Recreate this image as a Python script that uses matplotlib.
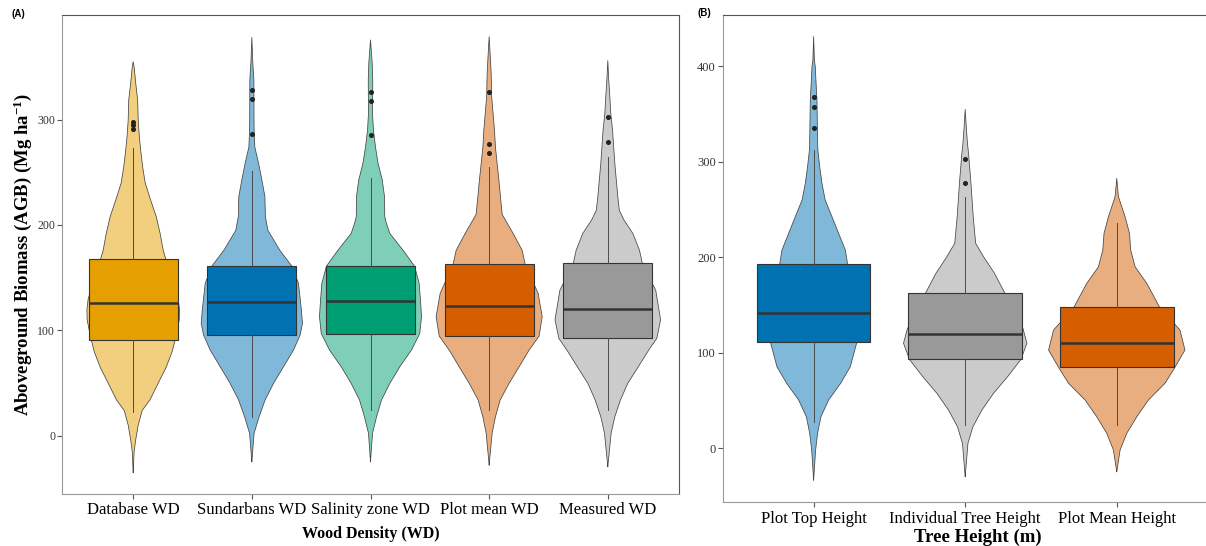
import matplotlib

matplotlib.use("Agg")
import matplotlib.pyplot as plt
import numpy as np

plt.rcParams["font.family"] = ["Liberation Serif", "DejaVu Serif"]
plt.rcParams["mathtext.fontset"] = "custom"
plt.rcParams["mathtext.rm"] = "Liberation Serif"
plt.rcParams["mathtext.default"] = "regular"

# --------------------------------------------------------------------------- #
# Panel A: AGB by wood density source                                         #
# --------------------------------------------------------------------------- #
wd_names = ["Database WD", "Sundarbans WD", "Salinity zone WD", "Plot mean WD", "Measured WD"]
wd_colors = ["#E69F00", "#0072B2", "#009E73", "#D55E00", "#999999"]
wd_q1 = [90.5, 95.6, 96.5, 94.6, 92.4]
wd_med = [125.7, 127.2, 128.2, 123.0, 120.0]
wd_q3 = [167.7, 161.0, 161.0, 163.0, 163.6]
wd_lo = [22.8, 18.0, 24.4, 24.4, 24.4]
wd_hi = [273.0, 251.0, 244.3, 255.4, 264.8]
wd_out = [[291, 295, 298], [286, 320, 328], [285, 318, 326.5], [268, 277, 326.5], [279, 302.8]]

# violin outlines: AGB level, half width (x units)
db_y = [-35, -15, -4, 10, 24, 34, 50, 65, 80, 95, 110, 120, 130, 145, 160, 168, 176, 192,
        208, 225, 240, 255, 271, 285, 300, 318, 335, 350, 355]
db_w = [0, .008, .021, .042, .076, .141, .211, .278, .329, .362, .388, .39, .379, .337, .295,
        .274, .253, .227, .194, .143, .101, .08, .063, .051, .042, .038, .021, .008, 0]
sb_y = [-24.7, 2.3, 18, 34, 49.7, 65.5, 81.3, 95.6, 106.7, 120, 144.7, 161, 176, 195, 208,
        227, 243, 259, 274, 290, 306, 338, 354, 378]
sb_w = [0, .019, .061, .112, .183, .267, .351, .407, .427, .417, .393, .337, .236, .135, .114,
        .11, .084, .056, .025, .019, .018, .017, .008, 0]
sz_y = [-24.7, 2.3, 18, 34, 49.7, 65.5, 81.3, 97, 113, 129, 144.7, 161, 176, 192, 202, 208,
        227, 242.7, 259, 274, 290, 306, 338, 354, 375.6]
sz_w = [0, .017, .051, .093, .163, .247, .345, .415, .43, .421, .41, .371, .275, .163, .133,
        .12, .118, .099, .063, .042, .025, .017, .019, .014, 0]
pm_y = [-27.8, 2.3, 18, 34, 49.7, 65.5, 81.3, 94.6, 113, 135, 163, 176, 192, 210, 227,
        242.7, 258.6, 274, 290, 322, 344, 363, 378.7]
pm_w = [0, .025, .053, .093, .168, .253, .337, .421, .447, .413, .303, .278, .202, .11, .095,
        .082, .067, .053, .045, .021, .017, .008, 0]
ms_y = [-29.4, 2.3, 18, 34, 49.7, 65.5, 81.3, 92.4, 110, 138, 163.6, 176, 192, 205, 214,
        227, 258.6, 290, 306, 322, 337.6, 356]
ms_w = [0, .028, .059, .107, .168, .257, .345, .413, .445, .404, .291, .267, .211, .135, .097,
        .084, .059, .04, .025, .017, .008, 0]

# --------------------------------------------------------------------------- #
# Panel B: AGB by tree height source                                          #
# --------------------------------------------------------------------------- #
th_names = ["Plot Top Height", "Individual Tree Height", "Plot Mean Height"]
th_colors = ["#0072B2", "#999999", "#D55E00"]
th_q1 = [111.0, 93.1, 84.8]
th_med = [141.6, 120.0, 110.5]
th_q3 = [192.9, 163.0, 148.2]
th_lo = [27.9, 24.4, 24.4]
th_hi = [312.0, 263.4, 235.5]
th_out = [[335.6, 357, 368], [278, 302.5], []]

pt_y = [-33.2, -1.8, 15.7, 33, 50.6, 68, 85.4, 111, 130, 150, 170, 192.9, 207.6, 225, 242.4,
        260, 277.4, 294.8, 312, 322.7, 364.6, 385.5, 399.5, 406.5, 431]
pt_w = [0, .013, .026, .048, .099, .178, .242, .285, .297, .283, .25, .224, .209, .165, .121,
        .076, .055, .04, .028, .026, .022, .015, .011, .005, 0]
it_y = [-29.7, 5.2, 22.6, 40, 57.6, 75, 93.1, 110, 125, 140, 163, 183, 200.6, 214.6, 242.4,
        277.4, 308.8, 319, 336.7, 354.8]
it_w = [0, .018, .051, .11, .187, .28, .368, .407, .382, .33, .26, .194, .121, .069, .053,
        .038, .022, .015, .007, 0]
mh_y = [-24.5, -1.8, 15.7, 33, 50.6, 68, 84.8, 102.9, 123.8, 148.2, 172.7, 190, 207.6, 225,
        242.4, 263.4, 282.6]
mh_w = [0, .022, .066, .132, .209, .318, .384, .45, .417, .281, .198, .121, .092, .084, .055,
        .011, 0]


def draw_panel(ax, names, colors, profiles, q1, med, q3, lo, hi, out):
    pos = np.arange(1, len(names) + 1)
    for p, (ys, ws), c in zip(pos, profiles, colors):
        ys, ws = np.asarray(ys, float), np.asarray(ws, float)
        ax.fill_betweenx(ys, p - ws, p + ws, facecolor=c, alpha=0.5, edgecolor="none", zorder=1)
        ax.plot(np.r_[p - ws, (p + ws)[::-1]], np.r_[ys, ys[::-1]],
                color="#444444", lw=0.55, zorder=1.5)
    stats = [dict(med=m, q1=a, q3=b, whislo=l, whishi=h, fliers=f)
             for m, a, b, l, h, f in zip(med, q1, q3, lo, hi, out)]
    bp = ax.bxp(stats, positions=pos, widths=0.75, patch_artist=True, showcaps=False,
                manage_ticks=False, zorder=3,
                boxprops=dict(edgecolor="#333333", lw=0.8),
                medianprops=dict(color="#333333", lw=1.8),
                whiskerprops=dict(color="#4a4a4a", lw=0.7),
                flierprops=dict(marker="o", mfc="#222222", mec="#222222", ms=2.6, ls="none"))
    for box, c in zip(bp["boxes"], colors):
        box.set_facecolor(c)
    ax.set_xticks(pos)
    ax.set_xticklabels(names, fontsize=12)
    ax.set_xlim(0.4, len(names) + 0.6)
    for side in ("left", "bottom"):
        ax.spines[side].set_color("#9a9a9a")
    for side in ("top", "right"):
        ax.spines[side].set_color("#555555")
    ax.tick_params(axis="both", colors="#555555", length=3.5, width=0.8)
    ax.tick_params(axis="x", labelcolor="black", pad=2)
    ax.tick_params(axis="y", labelcolor="#333333", pad=1.5)


W, H = 1206, 546
fig = plt.figure(figsize=(W / 100, H / 100), dpi=100)
axA = fig.add_axes([62 / W, 1 - 494 / H, 617 / W, 479 / H])
axB = fig.add_axes([722.7 / W, 1 - 502 / H, 485 / W, 487 / H])

draw_panel(axA, wd_names, wd_colors,
           [(db_y, db_w), (sb_y, sb_w), (sz_y, sz_w), (pm_y, pm_w), (ms_y, ms_w)],
           wd_q1, wd_med, wd_q3, wd_lo, wd_hi, wd_out)
axA.set_ylim(-55.3, 399.3)
axA.set_yticks([0, 100, 200, 300])
axA.tick_params(axis="y", labelsize=8.5)
axA.set_xlabel("Wood Density (WD)", fontsize=11.5, fontweight="bold", labelpad=6)
axA.set_ylabel("Aboveground Biomass (AGB) (Mg ha$^{-1}$)", fontsize=13.5,
               fontweight="bold", labelpad=2)

draw_panel(axB, th_names, th_colors, [(pt_y, pt_w), (it_y, it_w), (mh_y, mh_w)],
           th_q1, th_med, th_q3, th_lo, th_hi, th_out)
axB.set_ylim(-56.2, 453.6)
axB.set_yticks([0, 100, 200, 300, 400])
axB.tick_params(axis="y", labelsize=9)
axB.tick_params(axis="x", pad=3)
axB.spines["right"].set_visible(False)
axB.set_xlabel("Tree Height (m)", fontsize=13.5, fontweight="bold")
axB.xaxis.set_label_coords(0.526, -0.054)

fig.text(11.5 / W, 1 - 14 / H, "(A)", fontsize=7, fontweight="bold",
         family="Liberation Sans", va="center")
fig.text(697 / W, 1 - 13.5 / H, "(B)", fontsize=7, fontweight="bold",
         family="Liberation Sans", va="center")

fig.savefig("out.png", dpi=100)
